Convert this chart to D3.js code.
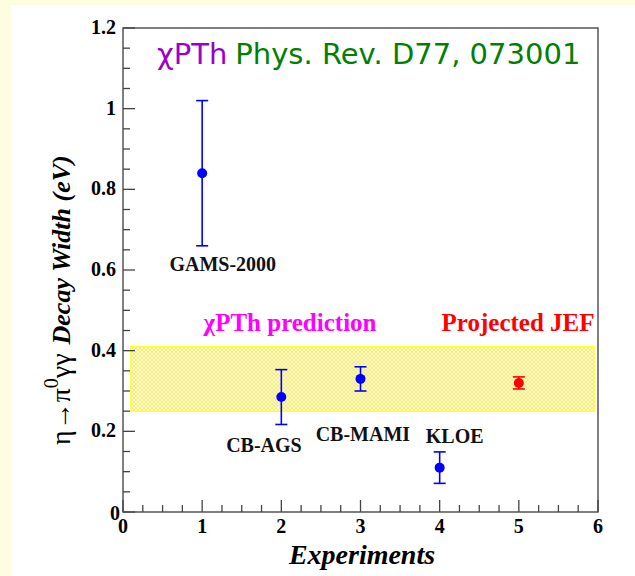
<!DOCTYPE html>
<html>
<head>
<meta charset="UTF-8">
<script src="https://d3js.org/d3.v7.min.js"></script>
<style>
  body { margin: 0; background: #fffde1; }
  svg { display: block; }
</style>
</head>
<body>
<svg width="635" height="576"></svg>
<script>
const experiments = ["GAMS-2000", "CB-AGS", "CB-MAMI", "KLOE", "Projected JEF"];
const expX = [1, 2, 3, 4, 5];
const widths = [0.84, 0.285, 0.33, 0.11, 0.32];
const errors = [0.18, 0.068, 0.03, 0.039, 0.015];
const projected = [false, false, false, false, true];
const bandY = [0.25, 0.41];
const bandX = [0.1, 5.95];
const xTicks = [0, 1, 2, 3, 4, 5, 6];
const yTicks = [0, 0.2, 0.4, 0.6, 0.8, 1, 1.2];

const svg = d3.select("svg");
const padL = 123, padR = 598, padT = 28, padB = 512;
const x = d3.scaleLinear().domain([0, 6]).range([padL, padR]);
const y = d3.scaleLinear().domain([0, 1.2]).range([padB, padT]);

// white panel
svg.append("rect").attr("x", 11).attr("y", 5).attr("width", 624).attr("height", 571).attr("fill", "#fff");

// hatch pattern for prediction band
const defs = svg.append("defs");
const pat = defs.append("pattern").attr("id", "hatch").attr("patternUnits", "userSpaceOnUse")
  .attr("width", 4).attr("height", 4);
pat.append("rect").attr("width", 4).attr("height", 4).attr("fill", "#fffbc8");
pat.append("path").attr("d", "M0,4 L4,0 M0,0 L4,4").attr("stroke", "#f2ea70").attr("stroke-width", 0.8);

svg.append("rect")
  .attr("x", x(bandX[0])).attr("y", y(bandY[1]))
  .attr("width", x(bandX[1]) - x(bandX[0]))
  .attr("height", y(bandY[0]) - y(bandY[1]))
  .attr("fill", "url(#hatch)").attr("stroke", "#ffff33").attr("stroke-width", 1.5);

// frame
svg.append("rect").attr("x", padL).attr("y", padT).attr("width", padR - padL).attr("height", padB - padT)
  .attr("fill", "none").attr("stroke", "#555").attr("stroke-width", 1.5);

// ticks (inside, ROOT style)
const gx = svg.append("g").attr("stroke", "#444").attr("stroke-width", 1.3);
d3.range(0, 6.01, 0.25).forEach(v => {
  const major = Math.abs(v - Math.round(v)) < 1e-6;
  gx.append("line").attr("x1", x(v)).attr("x2", x(v)).attr("y1", padB).attr("y2", padB - (major ? 12 : 7));
});
d3.range(0, 1.201, 0.05).forEach(v => {
  const major = Math.abs(v * 5 - Math.round(v * 5)) < 1e-6;
  gx.append("line").attr("x1", padL).attr("x2", padL + (major ? 12 : 7)).attr("y1", y(v)).attr("y2", y(v));
});

const tickFont = "'Liberation Serif', serif";
svg.append("g").selectAll("text").data(xTicks).join("text")
  .attr("x", d => x(d)).attr("y", padB + 21)
  .attr("text-anchor", "middle").attr("font-family", tickFont).attr("font-weight", "bold").attr("font-size", 20)
  .text(d => d);
svg.append("g").selectAll("text").data(yTicks).join("text")
  .attr("x", d => d === 0 ? padL - 3 : padL - 7).attr("y", d => d === 0 ? y(d) + 8 : y(d) + 6)
  .attr("text-anchor", "end").attr("font-family", tickFont).attr("font-weight", "bold").attr("font-size", 20)
  .text(d => d);

// axis titles
svg.append("text").attr("x", 362).attr("y", 564).attr("text-anchor", "middle")
  .attr("font-family", tickFont).attr("font-weight", "bold").attr("font-style", "italic").attr("font-size", 28)
  .text("Experiments");

const yt = svg.append("text").attr("transform", "translate(70,445) rotate(-90)")
  .attr("font-family", tickFont).attr("font-size", 28);
yt.append("tspan").text("η→π");
yt.append("tspan").attr("dy", -12).attr("font-size", 20).text("0");
yt.append("tspan").attr("dy", 12).text("γγ");
yt.append("tspan").attr("dx", 9).attr("font-weight", "bold").attr("font-style", "italic").attr("font-size", 26)
  .text("Decay Width (eV)");

// data points with error bars
const pts = svg.append("g");
expX.forEach((xv, i) => {
  const col = projected[i] ? "#ff0000" : "#0000ff";
  const cap = 6;
  const g = pts.append("g").attr("stroke", col).attr("stroke-width", 1.6);
  g.append("line").attr("x1", x(xv)).attr("x2", x(xv)).attr("y1", y(widths[i] - errors[i])).attr("y2", y(widths[i] + errors[i]));
  [widths[i] - errors[i], widths[i] + errors[i]].forEach(e =>
    g.append("line").attr("x1", x(xv) - cap).attr("x2", x(xv) + cap).attr("y1", y(e)).attr("y2", y(e)));
  pts.append("circle").attr("cx", x(xv)).attr("cy", y(widths[i])).attr("r", 5).attr("fill", col);
});

// labels
const labelPos = [[1.26, 0.598], [1.78, 0.15], [3.03, 0.176], [4.19, 0.171]];
labelPos.forEach((p, i) => {
  svg.append("text").attr("x", x(p[0])).attr("y", y(p[1])).attr("text-anchor", "middle")
    .attr("font-family", tickFont).attr("font-weight", "bold").attr("font-size", 20).attr("fill", "#111")
    .text(experiments[i]);
});
svg.append("text").attr("x", x(2.11)).attr("y", y(0.45)).attr("text-anchor", "middle")
  .attr("font-family", tickFont).attr("font-weight", "bold").attr("font-size", 25).attr("fill", "#ff00ff")
  .text("χPTh prediction");
svg.append("text").attr("x", x(4.99)).attr("y", y(0.45)).attr("text-anchor", "middle")
  .attr("font-family", tickFont).attr("font-weight", "bold").attr("font-size", 25).attr("fill", "#ff0000")
  .text(experiments[4]);

// reference title
const tt = svg.append("text").attr("x", 157).attr("y", 64)
  .attr("font-family", "'DejaVu Sans', sans-serif").attr("font-size", 29);
tt.append("tspan").attr("fill", "#9900cc").text("χPTh");
tt.append("tspan").attr("fill", "#008000").attr("dx", 8).text("Phys. Rev. D77, 073001");
</script>
</body>
</html>
